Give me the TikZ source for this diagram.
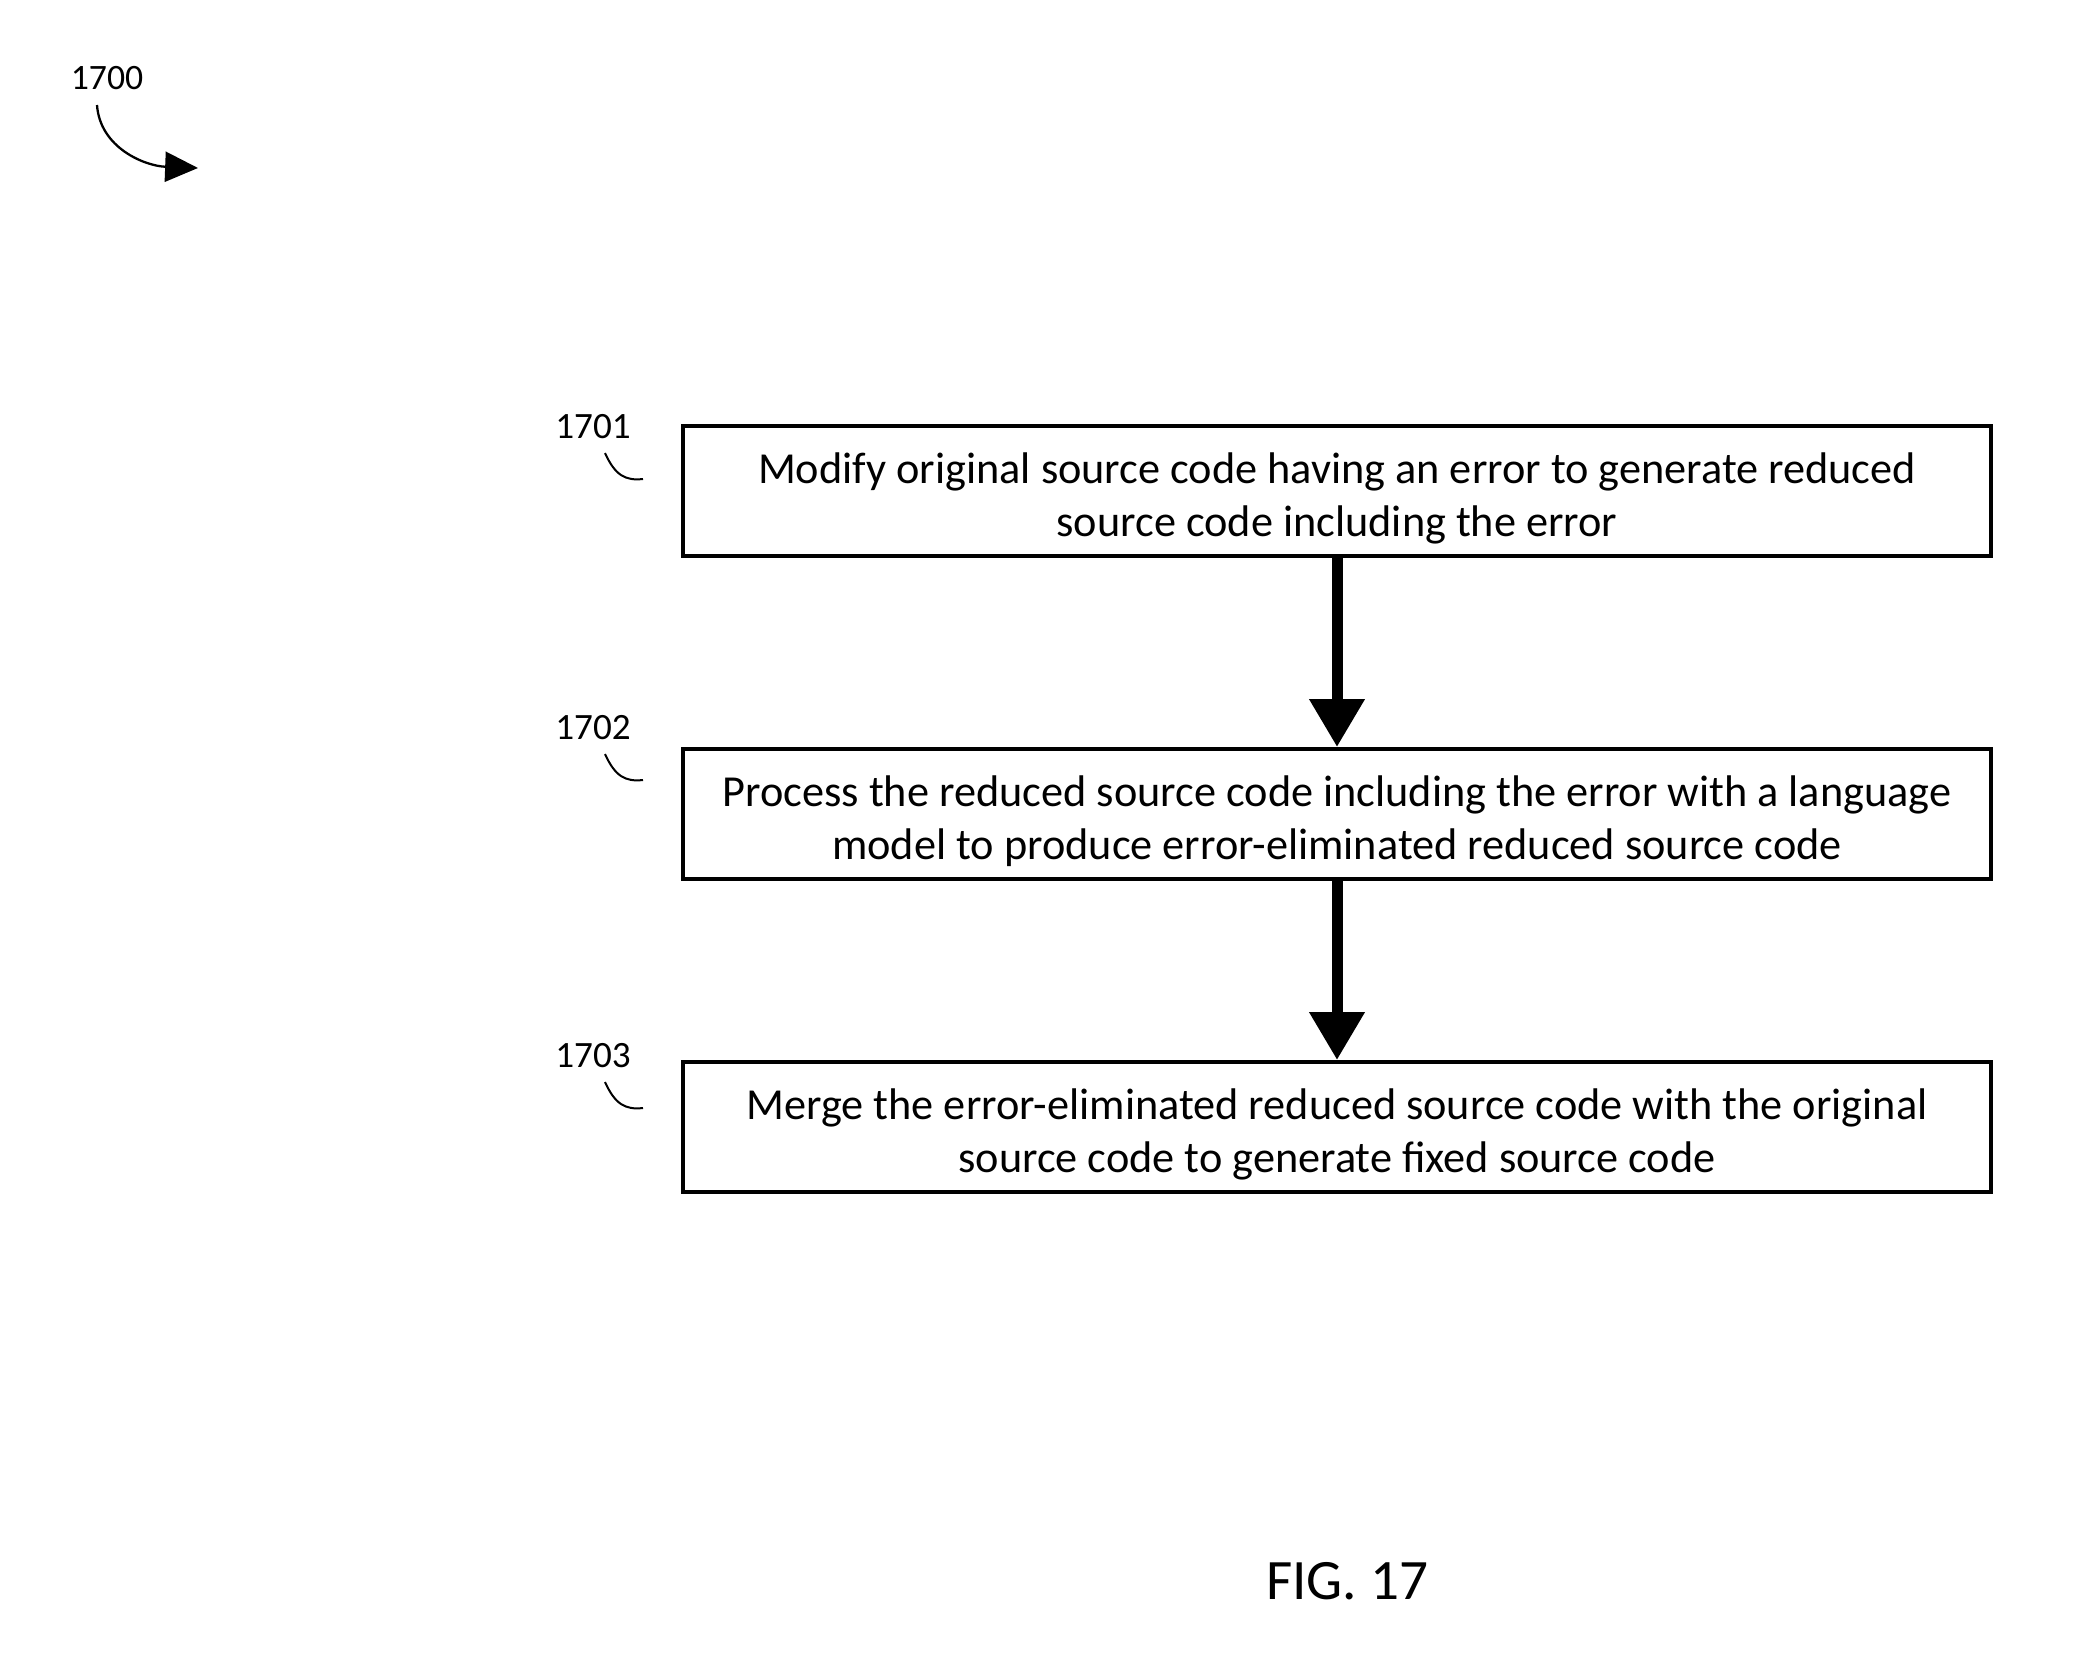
\documentclass[tikz,border=0pt]{standalone}
\usepackage{fontspec}
\setmainfont{Carlito}
\usetikzlibrary{positioning, calc, arrows.meta}

\tikzset{
  flowbox/.style={draw, line width=1.4pt, minimum width=458pt, minimum height=45.5pt, align=center, inner sep=0pt, font=\fontsize{15.5pt}{18.7pt}\selectfont},
  reflabel/.style={font=\fontsize{13pt}{15pt}\selectfont},
  flowarrow/.style={line width=3.85pt, -{Triangle[width=18.5pt,length=16.8pt]}},
  tick/.style={line width=0.7pt}
}

\begin{document}
\begin{tikzpicture}[x=0.35pt, y=-0.35pt]
  \useasboundingbox (0,0) rectangle (2096,1668);

  % figure number
  \node[reflabel, font=\fontsize{12.5pt}{15pt}\selectfont] (lbl1700) at (107,78) {1700};
  \coordinate (tip1700) at (198,168);
  \draw[line width=0.8pt, -{Triangle[width=10.5pt,length=11.5pt]}] (97,105) .. controls (100,148) and (145,166) .. (tip1700);

  % boxes
  \node[flowbox] (box1701) at (1337,491) {\rule{0pt}{15.8pt}Modify original source code having an error to generate reduced\\source code including the error};
  \node[flowbox] (box1702) at (1337,814) {\rule{0pt}{15.8pt}Process the reduced source code including the error with a language\\model to produce error-eliminated reduced source code};
  \node[flowbox] (box1703) at (1337,1127) {\rule{0pt}{15.8pt}Merge the error-eliminated reduced source code with the original\\source code to generate fixed source code};

  % arrows
  \draw[flowarrow] (box1701.south) -- (box1702.north);
  \draw[flowarrow] (box1702.south) -- (box1703.north);

  % labels
  \node[reflabel] (lbl1701) at (593,427) {1701};
  \node[reflabel] (lbl1702) at (593,728) {1702};
  \node[reflabel] (lbl1703) at (593,1056) {1703};
  \foreach \n in {1701,1702,1703}
    \draw[tick] ($(lbl\n)+(12,26)$) .. controls ++(10,22) and ++(-18,2) .. ++(38,26);

  % caption
  \node[font=\fontsize{20pt}{24pt}\selectfont] (fig) at (1347,1581) {FIG. 17};
\end{tikzpicture}
\end{document}
